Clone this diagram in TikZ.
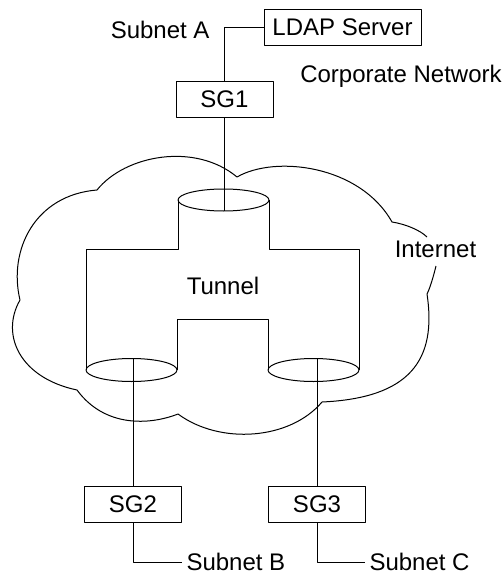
\documentclass[tikz,border=0pt]{standalone}
\usepackage{fontspec}
\setmainfont{Liberation Sans}
\begin{document}
\begin{tikzpicture}[x=.5pt, y=-.5pt, line width=.5pt, line join=round,
    font=\fontsize{12}{14}\selectfont,
    box/.style={draw, inner sep=0pt, minimum height=18pt},
    lbl/.style={inner sep=2pt}]
  \useasboundingbox (0,0) rectangle (503,573);
  % boxes
  \node[box, minimum width=78.5pt] (ldap) at (342.5,27) {LDAP Server};
  \foreach \n/\x/\y in {1/224.5/99.5, 2/133/504, 3/317/504}
    \node[box, minimum width=48.5pt] (sg\n) at (\x,\y) {SG\n};
  % labels
  \node[lbl, anchor=east] (suba) at (214,30) {Subnet A};
  \node[lbl] (corp) at (401,76) {Corporate Network};
  \node[lbl] (inet) at (435.5,249) {Internet};
  \node[lbl] (tunnel) at (223,286) {Tunnel};
  \node[lbl, anchor=west] (subb) at (182,562) {Subnet B};
  \node[lbl, anchor=west] (subc) at (365,562) {Subnet C};
  % cloud
  \draw (436,266) .. controls (433,278) and (430,288) .. (427,294)
    .. controls (437,360) and (410,398) .. (322,402)
    .. controls (290,440) and (220,445) .. (178,414)
    .. controls (150,425) and (105,428) .. (77,390)
    .. controls (20,378) and (0,335) .. (20,300)
    .. controls (8,250) and (35,195) .. (97,190)
    .. controls (125,155) and (195,142) .. (237,177)
    .. controls (275,155) and (360,165) .. (392,222)
    .. controls (405,224) and (420,230) .. (427,237);
  % tunnel
  \draw (86,370) -- (86,249) -- (178,249) -- (178,200);
  \draw (269,200) -- (269,249) -- (359,249) -- (359,370);
  \draw (177,370) -- (177,319) -- (268,319) -- (268,370);
  \draw (223.5,200) ellipse [x radius=45.5, y radius=11];
  \foreach \x in {131.5,313.5}
    \draw (\x,370) ellipse [x radius=45.5, y radius=11.5];
  \coordinate (tf) at (224.5,211);
  \coordinate (lb) at (133,358.5);
  \coordinate (rb) at (317,358.5);
  % links
  \draw (ldap.west) -| (sg1.north);
  \draw (sg1.south) -- (tf);
  \draw (lb) -- (sg2.north);
  \draw (rb) -- (sg3.north);
  \draw (sg2.south) |- (subb.west);
  \draw (sg3.south) |- (subc.west);
\end{tikzpicture}
\end{document}
